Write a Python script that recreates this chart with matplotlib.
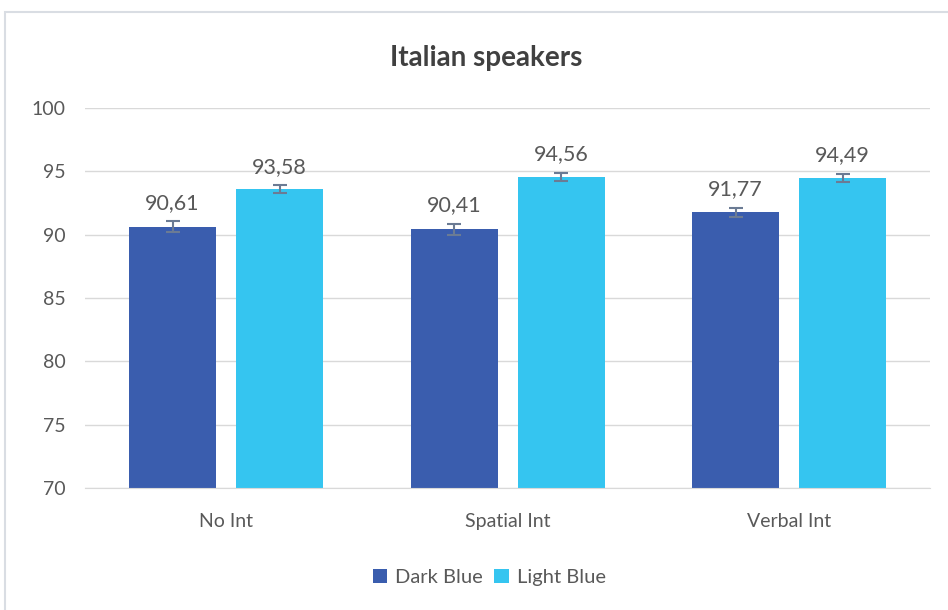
import matplotlib
matplotlib.use('Agg')
import matplotlib.pyplot as plt
import matplotlib.patches as mpatches
import numpy as np

plt.rcParams['font.family'] = ['Lato', 'DejaVu Sans']

categories = ['No Int', 'Spatial Int', 'Verbal Int']
dark_vals = [90.61, 90.41, 91.77]
light_vals = [93.58, 94.56, 94.49]
dark_err = [0.43, 0.4, 0.35]
light_err = [0.3, 0.3, 0.3]
series = ['Dark Blue', 'Light Blue']

DARK = '#3A5DAE'
LIGHT = '#35C5F0'
TXT = '#595959'
ERR = '#6B7B94'

fig = plt.figure(figsize=(9.48, 6.1), dpi=100, facecolor='white')
ax = fig.add_axes([0.09, 0.2, 0.891, 0.623])

x = np.arange(len(categories))
w = 0.31
off = 0.19
ax.bar(x - off, [v - 70 for v in dark_vals], w, bottom=70, color=DARK, label=series[0], zorder=2)
ax.bar(x + off, [v - 70 for v in light_vals], w, bottom=70, color=LIGHT, label=series[1], zorder=2)
ax.errorbar(x - off, dark_vals, yerr=dark_err, fmt='none', ecolor=ERR, elinewidth=1.5, capsize=5, capthick=1.5, zorder=3)
ax.errorbar(x + off, light_vals, yerr=light_err, fmt='none', ecolor=ERR, elinewidth=1.5, capsize=5, capthick=1.5, zorder=3)

for xs, vals, errs in [(x - off, dark_vals, dark_err), (x + off, light_vals, light_err)]:
    for xi, v, e in zip(xs, vals, errs):
        ax.text(xi, v + e + 0.7, f'{v:.2f}'.replace('.', ','), ha='center', va='bottom',
                fontsize=15.5, color=TXT)

ax.set_ylim(70, 100)
ax.set_xlim(-0.5, 2.5)
ax.set_yticks(range(70, 101, 5))
ax.set_xticks(x)
ax.set_xticklabels(categories)
ax.tick_params(axis='both', length=0, labelsize=14, colors=TXT)
ax.tick_params(axis='y', pad=14)
ax.tick_params(axis='x', pad=18)
ax.grid(axis='y', color='#D9D9D9', linewidth=1, zorder=0)
ax.set_axisbelow(True)
for s in ['top', 'right', 'left']:
    ax.spines[s].set_visible(False)
ax.spines['bottom'].set_color('#D9D9D9')

fig.text(0.513, 0.905, 'Italian speakers', ha='center', va='center', fontsize=20,
         fontweight='bold', color='#404040')

ax.legend(loc='upper center', bbox_to_anchor=(0.478, -0.165), ncol=2, frameon=False,
          fontsize=14.5, labelcolor=TXT, handlelength=0.7, handleheight=0.7,
          columnspacing=0.6, handletextpad=0.4)

fig.patches.append(mpatches.Rectangle((0.005, -0.01), 1.0, 0.99, transform=fig.transFigure,
                                      fill=False, edgecolor='#D9DDE3', linewidth=1.5))

fig.savefig('out.png', dpi=100, facecolor='white')
